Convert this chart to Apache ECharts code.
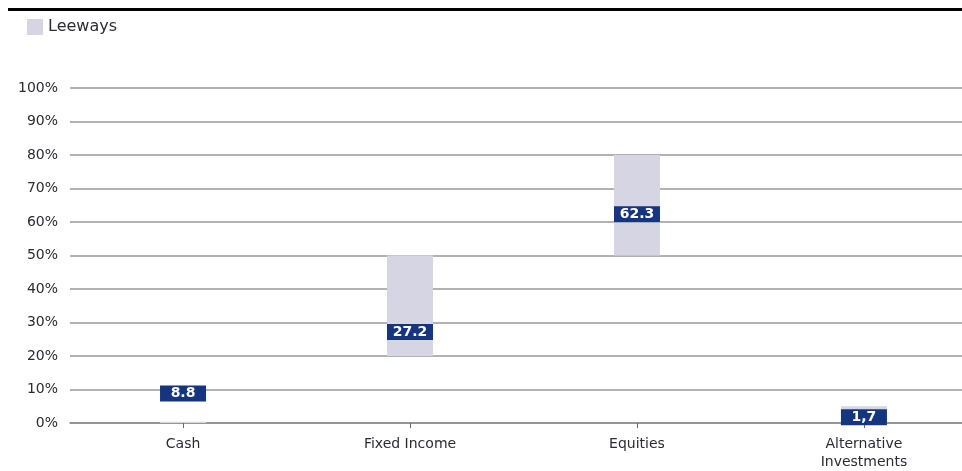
<!DOCTYPE html>
<html>
<head>
<meta charset="utf-8">
<script src="https://cdn.jsdelivr.net/npm/echarts@6/dist/echarts.min.js"></script>
<style>
  html, body { margin: 0; padding: 0; background: #fff; }
  #chart { width: 962px; height: 471px; }
</style>
</head>
<body>
<div id="chart"></div>
<script>
// asset classes on the x axis
var categories = ['Cash', 'Fixed Income', 'Equities', 'Alternative\nInvestments'];
// leeway ranges (lower / upper bound, %)
var leewayLow = [0, 20, 50, 0];
var leewayHigh = [0.4, 50, 80, 5];
// actual allocation (%)
var actual = [8.8, 27.2, 62.3, 1.7];
var actualLabels = ['8.8', '27.2', '62.3', '1,7'];

var navy = '#15357f';
var leewayColor = '#d6d5e4';
var font = 'DejaVu Sans';
var boxW = 46;

// the last category runs off the right edge, so the x axis is a value axis
// indexed by category position (0..3)
var positions = categories.map(function (c, i) { return i; });

var chart = echarts.init(document.getElementById('chart'));
chart.setOption({
  animation: false,
  textStyle: { fontFamily: font },
  legend: {
    left: 22, top: 14,
    itemWidth: 16, itemHeight: 16, itemGap: 8,
    data: [{ name: 'Leeways', icon: 'rect', itemStyle: { color: leewayColor } }],
    textStyle: { fontSize: 16, color: '#2b2b35', fontFamily: font }
  },
  graphic: [
    { type: 'line', shape: { x1: 8, y1: 9.5, x2: 962, y2: 9.5 }, style: { stroke: '#000', lineWidth: 3 } }
  ],
  grid: { left: 70, top: 88, right: 0, bottom: 44 },
  xAxis: {
    type: 'value',
    min: -0.498, max: 3.432,
    splitLine: { show: false },
    axisLine: { lineStyle: { color: '#8c8c8c', width: 1.5 } },
    axisTick: { length: 5, lineStyle: { color: '#666' }, customValues: positions },
    axisLabel: {
      fontSize: 14, color: '#2b2b35', margin: 12, lineHeight: 18,
      customValues: positions,
      formatter: function (v) { return categories[Math.round(v)] || ''; }
    }
  },
  yAxis: {
    type: 'value',
    min: 0, max: 100, interval: 10,
    axisLabel: { formatter: '{value}%', fontSize: 14, color: '#2b2b35', margin: 12 },
    splitLine: { lineStyle: { color: '#999', width: 1.5 } },
    axisLine: { show: false },
    axisTick: { show: false }
  },
  series: [
    {
      name: 'Leeways',
      type: 'custom',
      itemStyle: { color: leewayColor },
      encode: { x: 0, y: [1, 2] },
      renderItem: function (params, api) {
        var lo = api.coord([api.value(0), api.value(1)]);
        var hi = api.coord([api.value(0), api.value(2)]);
        return {
          type: 'rect',
          shape: { x: lo[0] - boxW / 2, y: hi[1], width: boxW, height: lo[1] - hi[1] },
          style: { fill: leewayColor }
        };
      },
      data: positions.map(function (i) { return [i, leewayLow[i], leewayHigh[i]]; })
    },
    {
      name: 'Actual',
      type: 'scatter',
      symbol: 'rect',
      symbolSize: [boxW, 16],
      itemStyle: { color: navy, opacity: 1 },
      label: {
        show: true,
        position: 'inside',
        color: '#fff',
        fontSize: 14,
        fontWeight: 'bold',
        fontFamily: font,
        formatter: function (p) { return actualLabels[p.dataIndex]; }
      },
      data: positions.map(function (i) { return [i, actual[i]]; }),
      z: 5
    }
  ]
});
</script>
</body>
</html>
